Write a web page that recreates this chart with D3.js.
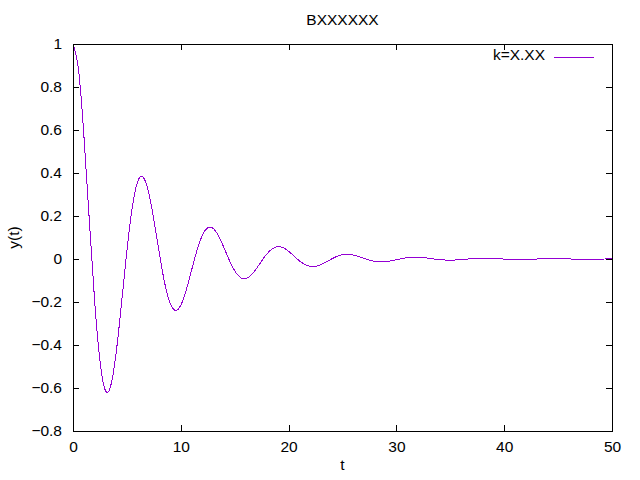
<!DOCTYPE html>
<html>
<head>
<meta charset="utf-8">
<script src="https://cdn.jsdelivr.net/npm/d3@7"></script>
<style>
  body { margin: 0; background: #fff; }
  text { font-family: "Liberation Sans", Arial, sans-serif; fill: #000; }
  line, rect, path { shape-rendering: crispEdges; }
</style>
</head>
<body>
<svg id="chart" width="640" height="480"></svg>
<script>

// chart texts
const title = "BXXXXXX";
const xLabel = "t";
const yLabel = "y(t)";
const seriesName = "k=X.XX";

// tick values of both axes
const xTicks = [0, 10, 20, 30, 40, 50];
const yTicks = [-0.8, -0.6, -0.4, -0.2, 0, 0.2, 0.4, 0.6, 0.8, 1];

// samples
const tValues = [
    0, 0.5, 1, 1.5, 2, 2.5, 3, 3.5, 4, 4.5,
    5, 5.5, 6, 6.5, 7, 7.5, 8, 8.5, 9, 9.5,
    10, 10.5, 11, 11.5, 12, 12.5, 13, 13.5, 14, 14.5,
    15, 15.5, 16, 16.5, 17, 17.5, 18, 18.5, 19, 19.5,
    20, 20.5, 21, 21.5, 22, 22.5, 23, 23.5, 24, 24.5,
    25, 25.5, 26, 26.5, 27, 27.5, 28, 28.5, 29, 29.5,
    30, 30.5, 31, 31.5, 32, 32.5, 33, 33.5, 34, 34.5,
    35, 35.5, 36, 36.5, 37, 37.5, 38, 38.5, 39, 39.5,
    40, 40.5, 41, 41.5, 42, 42.5, 43, 43.5, 44, 44.5,
    45, 45.5, 46, 46.5, 47, 47.5, 48, 48.5, 49, 49.5, 50
];
const yValues = [
    1.0000, 0.8835, 0.5823, 0.1907, -0.1897, -0.4740, -0.6109, -0.5899, -0.4376, -0.2071,
    0.0384, 0.2410, 0.3606, 0.3815, 0.3128, 0.1825, 0.0289, -0.1099, -0.2044, -0.2392,
    -0.2148, -0.1450, -0.0519, 0.0400, 0.1100, 0.1453, 0.1426, 0.1078, 0.0534, -0.0055,
    -0.0551, -0.0851, -0.0917, -0.0765, -0.0460, -0.0093, 0.0244, 0.0479, 0.0572, 0.0522,
    0.0360, 0.0139, -0.0083, -0.0255, -0.0345, -0.0344, -0.0265, -0.0137, 0.0004, 0.0125,
    0.0201, 0.0220, 0.0187, 0.0116, 0.0028, -0.0054, -0.0112, -0.0136, -0.0127, -0.0089,
    -0.0037, 0.0017, 0.0059, 0.0082, 0.0083, 0.0065, 0.0035, 0.0001, -0.0028, -0.0047,
    -0.0053, -0.0046, -0.0029, -0.0008, 0.0012, 0.0026, 0.0033, 0.0031, 0.0022, 0.0010,
    -0.0003, -0.0014, -0.0019, -0.0020, -0.0016, -0.0009, -0.0001, 0.0006, 0.0011, 0.0013,
    0.0011, 0.0007, 0.0002, -0.0003, -0.0006, -0.0008, -0.0008, -0.0006, -0.0003, 0.0001, 0.0003
];

const lineColor = "#9400d3";

// plot frame
const margin = {top: 44, right: 28, bottom: 49, left: 73};
const width = 640 - margin.left - margin.right;
const height = 480 - margin.top - margin.bottom;
const tickLen = 6;

const svg = d3.select("#chart");
const g = svg.append("g").attr("transform", `translate(${margin.left},${margin.top})`);

const x = d3.scaleLinear().domain([0, 50]).range([0, width]);
const y = d3.scaleLinear().domain([-0.8, 1]).range([height, 0]);

/**
 * strip the domain path and style ticks like gnuplot
 */
function styleAxis(sel) {
    sel.select(".domain").remove();
    sel.selectAll(".tick line").attr("stroke", "#000").attr("stroke-width", 1);
    sel.selectAll(".tick text").attr("font-size", 15.5).attr("fill", "#000")
        .style("font-family", '"Liberation Sans", Arial, sans-serif');
}

// bottom and top ticks
g.append("g")
    .attr("transform", `translate(0,${height})`)
    .call(d3.axisBottom(x).tickValues(xTicks).tickFormat(d3.format("d"))
        .tickSizeInner(-tickLen).tickSizeOuter(0).tickPadding(10))
    .call(styleAxis);
g.append("g")
    .call(d3.axisTop(x).tickValues(xTicks).tickFormat("")
        .tickSizeInner(-tickLen).tickSizeOuter(0))
    .call(styleAxis);

// left and right ticks
g.append("g")
    .call(d3.axisLeft(y).tickValues(yTicks).tickFormat(d3.format("~g"))
        .tickSizeInner(-tickLen).tickSizeOuter(0).tickPadding(11))
    .call(styleAxis);
g.append("g")
    .attr("transform", `translate(${width},0)`)
    .call(d3.axisRight(y).tickValues(yTicks).tickFormat("")
        .tickSizeInner(-tickLen).tickSizeOuter(0))
    .call(styleAxis);

// curve
const points = tValues.map((t, i) => ({t: t, v: yValues[i]}));
g.append("path")
    .datum(points)
    .attr("fill", "none")
    .attr("stroke", lineColor)
    .attr("stroke-width", 1)
    .attr("d", d3.line().x((d) => x(d.t)).y((d) => y(d.v)).curve(d3.curveNatural));

// border
g.append("rect")
    .attr("x", 0).attr("y", 0)
    .attr("width", width).attr("height", height)
    .attr("fill", "none").attr("stroke", "#000").attr("stroke-width", 1);

// legend
g.append("text")
    .attr("x", 472).attr("y", 12)
    .attr("text-anchor", "end").attr("dominant-baseline", "middle")
    .attr("font-size", 15.5)
    .text(seriesName);
g.append("line")
    .attr("x1", 481).attr("x2", 521)
    .attr("y1", 13).attr("y2", 13)
    .attr("stroke", lineColor).attr("stroke-width", 1);

// titles
svg.append("text")
    .attr("x", margin.left + width / 2).attr("y", 21)
    .attr("text-anchor", "middle").attr("dominant-baseline", "middle")
    .attr("font-size", 15.5)
    .text(title);
svg.append("text")
    .attr("x", margin.left + width / 2).attr("y", 466)
    .attr("text-anchor", "middle").attr("dominant-baseline", "middle")
    .attr("font-size", 15.5)
    .text(xLabel);
svg.append("text")
    .attr("transform", `translate(15,${margin.top + height / 2}) rotate(-90)`)
    .attr("text-anchor", "middle").attr("dominant-baseline", "middle")
    .attr("font-size", 15.5)
    .text(yLabel);

</script>
</body>
</html>
